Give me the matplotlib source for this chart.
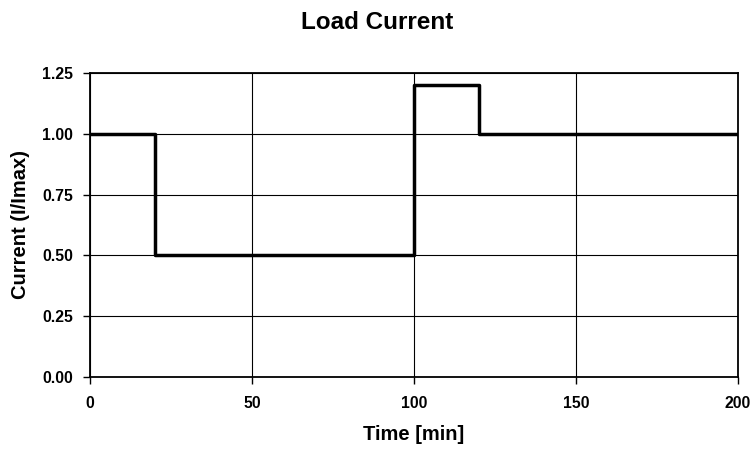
import numpy as np
import matplotlib
matplotlib.use("Agg")
import matplotlib.pyplot as plt

# step profile: value holds from each time until the next one
time_min = [0, 20, 100, 120, 200]
current = [1.0, 0.5, 1.2, 1.0, 1.0]
x_ticks = [0, 50, 100, 150, 200]
y_ticks = [0.00, 0.25, 0.50, 0.75, 1.00, 1.25]

plt.rcParams.update(
    {
        "font.family": "Liberation Sans",
        "font.weight": "bold",
        "axes.labelweight": "bold",
    }
)

fig = plt.figure(figsize=(7.55, 4.49), dpi=100)
ax = fig.add_axes([0.1192, 0.1604, 0.8583, 0.677])

ax.step(time_min, current, where="post", color="black", linewidth=2.5)

ax.set_xlim(0, 200)
ax.set_ylim(0, 1.25)
ax.set_xticks(x_ticks)
ax.set_yticks(y_ticks)
ax.set_yticklabels([f"{v:.2f}" for v in y_ticks])
ax.grid(True, color="black", linewidth=0.8)
ax.set_axisbelow(True)
for s in ax.spines.values():
    s.set_linewidth(1.3)
ax.tick_params(direction="out", length=5, width=1, labelsize=11.3)
ax.tick_params(axis="x", pad=9)
ax.tick_params(axis="y", pad=7)

ax.set_xlabel("Time [min]", fontsize=14.5, labelpad=10)
ax.set_ylabel("Current (I/Imax)", fontsize=14.5, labelpad=9)
fig.suptitle("Load Current", fontsize=17.5, fontweight="bold", y=0.951, va="center")

fig.savefig("out.png", dpi=100)
